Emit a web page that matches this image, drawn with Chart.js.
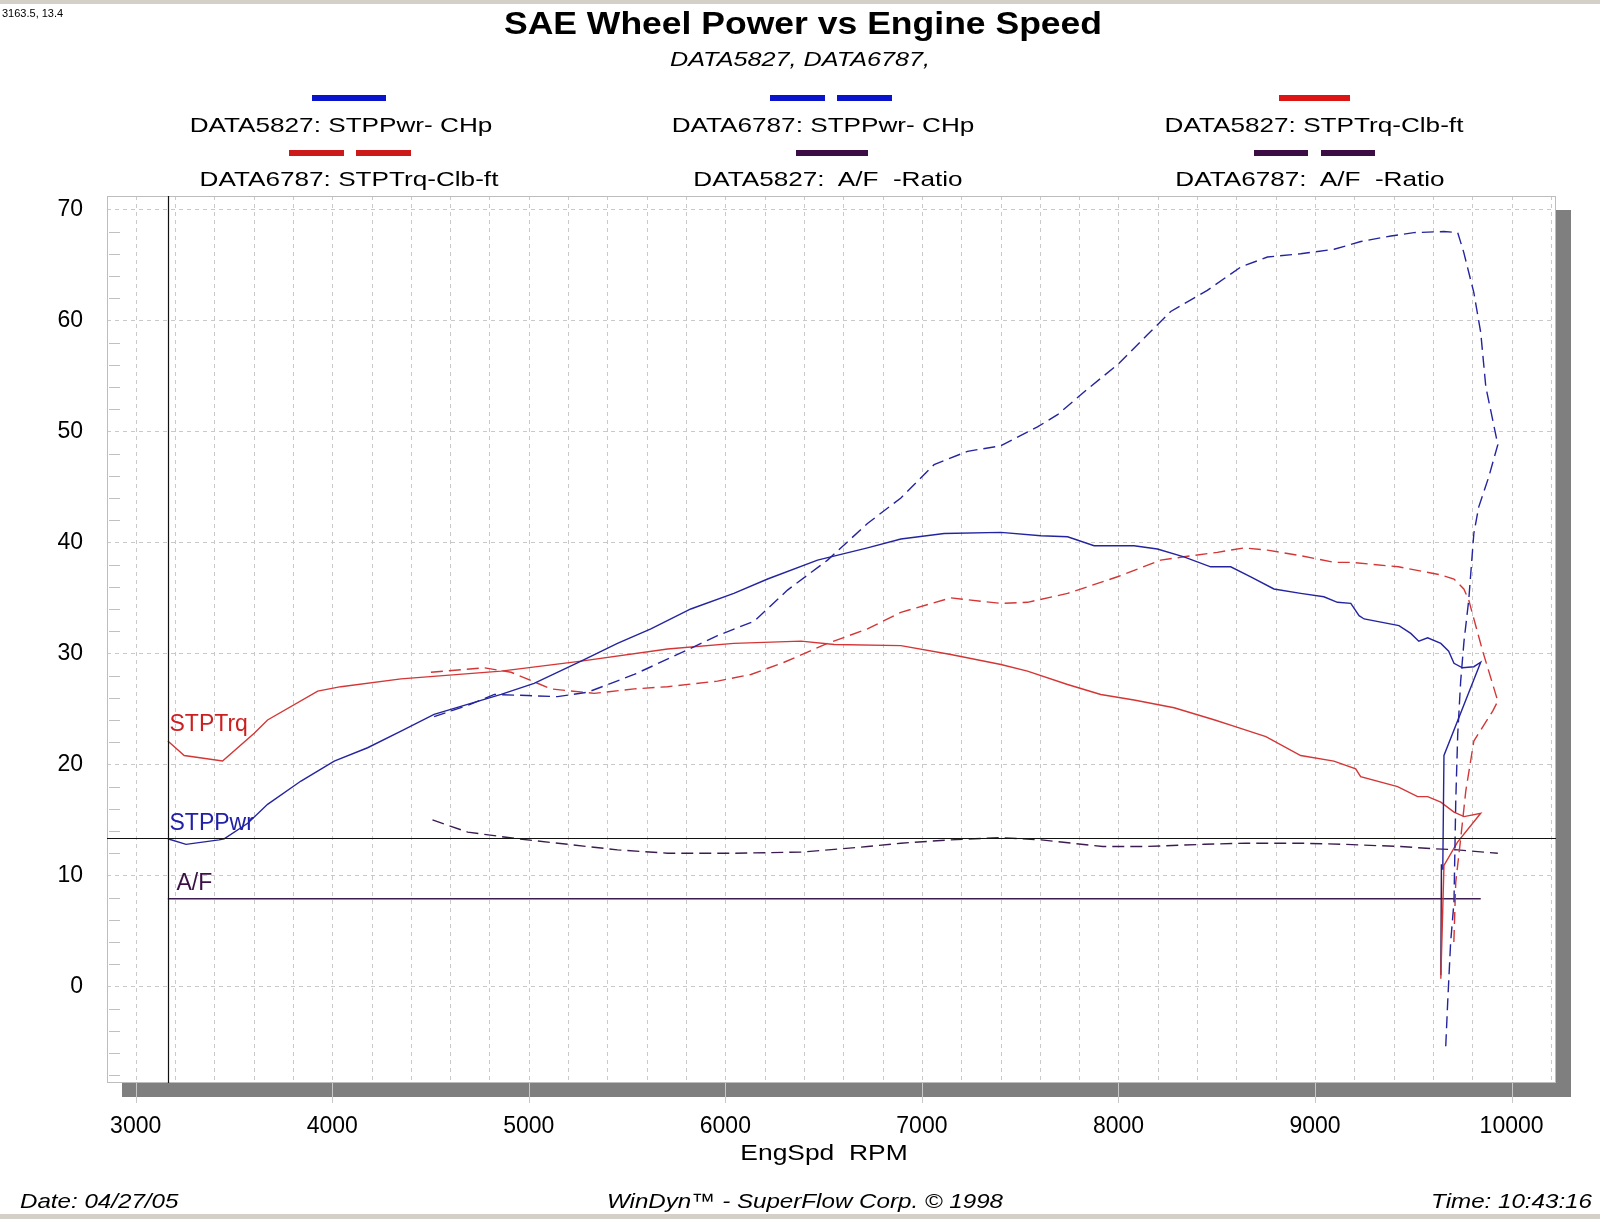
<!DOCTYPE html>
<html>
<head>
<meta charset="utf-8">
<script src="https://cdn.jsdelivr.net/npm/chart.js@4.4.1/dist/chart.umd.min.js"></script>
<style>
html,body{margin:0;padding:0;background:#fff;}
body{width:1600px;height:1219px;position:relative;overflow:hidden;font-family:"Liberation Sans",Arial,sans-serif;color:#000;}
#c{position:absolute;left:0;top:0;}
.t{position:absolute;white-space:pre;line-height:1;}
.cc{transform:translate(-50%,-50%) scaleX(1.2);}
.lc{transform-origin:0 50%;transform:translate(0,-50%) scaleX(1.15);}
.rc{transform-origin:100% 50%;transform:translate(-100%,-50%) scaleX(1.15);}
.leg{font-size:21px;transform:translate(-50%,-50%) scaleX(1.245);}
.sw{position:absolute;height:6px;}
.bar{position:absolute;left:0;width:1600px;background:#d4d0c8;}
</style>
</head>
<body>
<div class="bar" style="top:0;height:4px;"></div>
<div class="bar" style="top:1214px;height:5px;"></div>
<canvas id="c" width="1600" height="1219"></canvas>

<div class="t" id="cursorText" style="left:2px;top:13px;font-size:11px;transform:translate(0,-50%);"></div>
<div class="t" style="left:803px;top:23px;font-size:32px;font-weight:bold;transform:translate(-50%,-50%) scaleX(1.11);">SAE Wheel Power vs Engine Speed</div>
<div class="t cc" style="left:800px;top:58px;font-size:21px;font-style:italic;">DATA5827, DATA6787,</div>

<!-- legend samples -->
<div class="sw" style="left:312px;top:95px;width:74px;background:#0a14cc;"></div>
<div class="sw" style="left:770px;top:95px;width:55px;background:#0a14cc;"></div>
<div class="sw" style="left:837px;top:95px;width:55px;background:#0a14cc;"></div>
<div class="sw" style="left:1279px;top:95px;width:71px;background:#dd1414;"></div>
<div class="sw" style="left:289px;top:150px;width:55px;background:#cc1a1a;"></div>
<div class="sw" style="left:356px;top:150px;width:55px;background:#cc1a1a;"></div>
<div class="sw" style="left:796px;top:150px;width:72px;background:#3c0c44;"></div>
<div class="sw" style="left:1254px;top:150px;width:54px;background:#3c0c44;"></div>
<div class="sw" style="left:1321px;top:150px;width:54px;background:#3c0c44;"></div>

<div class="t leg" style="left:341px;top:124px;">DATA5827: STPPwr- CHp</div>
<div class="t leg" style="left:823px;top:124px;">DATA6787: STPPwr- CHp</div>
<div class="t leg" style="left:1314px;top:124px;">DATA5827: STPTrq-Clb-ft</div>
<div class="t leg" style="left:349px;top:178px;">DATA6787: STPTrq-Clb-ft</div>
<div class="t leg" style="left:828px;top:178px;">DATA5827:  A/F  -Ratio</div>
<div class="t leg" style="left:1310px;top:178px;">DATA6787:  A/F  -Ratio</div>

<div class="t cc" style="left:824px;top:1153px;font-size:22px;">EngSpd  RPM</div>
<div class="t lc" style="left:20px;top:1200px;font-size:21px;font-style:italic;">Date: 04/27/05</div>
<div class="t cc" style="left:805px;top:1200px;font-size:21px;font-style:italic;transform:translate(-50%,-50%) scaleX(1.15);">WinDyn™ - SuperFlow Corp. © 1998</div>
<div class="t rc" style="left:1592px;top:1200px;font-size:21px;font-style:italic;">Time: 10:43:16</div>

<script>
// ---------------- data ----------------
const rpmPwr5827 = [3163.5, 3256, 3424, 3450, 3570, 3671, 3841, 4010, 4180, 4350, 4518, 4859, 5027, 5266, 5451, 5621, 5824, 6043, 6215, 6469, 6723, 6893, 7113, 7402, 7605, 7741, 7876, 8079, 8198, 8333, 8469, 8571, 8673, 8791, 8927, 9045, 9114, 9182, 9224, 9250, 9427, 9487, 9528, 9573, 9640, 9680, 9707, 9750, 9808, 9843, 9656, 9650];
const pwr5827    = [13.3, 12.8, 13.2, 13.3, 14.7, 16.4, 18.5, 20.3, 21.5, 23.0, 24.5, 26.3, 27.3, 29.3, 30.9, 32.2, 34.0, 35.4, 36.7, 38.4, 39.5, 40.3, 40.8, 40.9, 40.6, 40.5, 39.7, 39.7, 39.4, 38.7, 37.8, 37.8, 36.9, 35.8, 35.4, 35.1, 34.6, 34.5, 33.4, 33.1, 32.5, 31.8, 31.1, 31.4, 30.9, 30.2, 29.1, 28.7, 28.8, 29.2, 20.8, 10.5];

const rpmTrq5827 = [3163.5, 3247, 3442, 3603, 3671, 3926, 4044, 4350, 4859, 5266, 5706, 6043, 6385, 6554, 6893, 7147, 7402, 7537, 7741, 7910, 8079, 8283, 8490, 8594, 8750, 8927, 9096, 9207, 9232, 9420, 9522, 9573, 9640, 9707, 9758, 9843, 9725, 9656, 9640];
const trq5827    = [22.1, 20.8, 20.3, 22.8, 24.0, 26.6, 27.0, 27.7, 28.4, 29.3, 30.4, 30.9, 31.1, 30.8, 30.7, 29.9, 29.0, 28.4, 27.2, 26.3, 25.8, 25.1, 24.0, 23.4, 22.5, 20.8, 20.3, 19.6, 18.9, 18.0, 17.1, 17.1, 16.6, 15.7, 15.3, 15.6, 13.0, 10.9, 0.7];

const rpmAF5827 = [3163.5, 9843, 9645, 9643, 9640];
const af5827    = [7.9, 7.9, 7.9, 11.0, 1.0];

const rpmPwr6787 = [4518, 4702, 4825, 4993, 5146, 5299, 5536, 5757, 5960, 6147, 6316, 6520, 6723, 6893, 7062, 7232, 7402, 7588, 7690, 7842, 7995, 8147, 8266, 8452, 8622, 8758, 8927, 9097, 9233, 9386, 9503, 9656, 9726, 9757, 9808, 9843, 9869, 9930, 9884, 9833, 9808, 9782, 9758, 9741, 9726, 9716, 9707, 9690, 9675, 9665];
const pwr6787    = [24.3, 25.4, 26.3, 26.2, 26.1, 26.5, 28.1, 29.9, 31.6, 32.9, 35.7, 38.4, 41.7, 44.0, 47.0, 48.2, 48.7, 50.4, 51.5, 53.8, 56.0, 58.7, 60.8, 62.7, 64.8, 65.7, 66.0, 66.4, 67.1, 67.6, 67.9, 68.0, 67.9, 66.1, 62.5, 58.9, 54.0, 48.8, 45.9, 43.2, 40.8, 34.8, 31.1, 27.5, 22.7, 16.7, 7.6, 4.0, -1.4, -5.4];

const rpmTrq6787 = [4502, 4773, 4910, 5113, 5333, 5536, 5706, 5960, 6130, 6299, 6520, 6723, 6893, 7147, 7402, 7537, 7741, 7995, 8215, 8333, 8503, 8638, 8758, 8927, 9097, 9182, 9424, 9632, 9707, 9757, 9782, 9853, 9930, 9904, 9808, 9767, 9741, 9716, 9706];
const trq6787    = [28.3, 28.7, 28.3, 26.8, 26.4, 26.8, 27.0, 27.5, 28.1, 29.2, 30.9, 32.2, 33.7, 35.0, 34.5, 34.6, 35.4, 36.9, 38.4, 38.7, 39.1, 39.5, 39.3, 38.8, 38.2, 38.2, 37.8, 37.1, 36.7, 35.8, 34.8, 30.2, 25.7, 24.8, 22.1, 17.6, 13.3, 9.4, 3.8];

const rpmAF6787 = [4510, 4689, 4943, 5197, 5451, 5706, 6043, 6385, 6723, 6893, 7141, 7401, 7608, 7920, 8127, 8438, 8646, 8927, 9148, 9436, 9605, 9726, 9858, 9930];
const af6787    = [15.0, 13.9, 13.3, 12.8, 12.3, 12.0, 12.0, 12.1, 12.6, 12.9, 13.2, 13.4, 13.2, 12.6, 12.6, 12.8, 12.9, 12.9, 12.8, 12.6, 12.4, 12.3, 12.1, 12.0];

const xTickLabels = [3000, 4000, 5000, 6000, 7000, 8000, 9000, 10000];
const yTickLabels = [0, 10, 20, 30, 40, 50, 60, 70];
const cursorRPM = 3163.5;
const cursorValue = 13.4;
// --------------------------------------

document.getElementById('cursorText').textContent = cursorRPM.toFixed(1) + ', ' + cursorValue.toFixed(1);

const xGridTicks = [];
for (let v = 3000; v <= 10200; v += 200) xGridTicks.push(v);

const pts = (xs, ys) => xs.map((x, i) => ({x: x, y: ys[i]}));

const BLUE = '#2424a0', RED = '#d43636', PURP = '#3c1c50';

const decor = {
  id: 'decor',
  beforeDatasetsDraw(chart) {
    const {ctx, chartArea: a, scales: {x, y}} = chart;
    ctx.save();
    ctx.fillStyle = '#7f7f7f';
    ctx.fillRect(a.right, a.top + 14, 15, a.bottom - a.top);
    ctx.fillRect(a.left + 15, a.bottom, a.right - a.left, 14);
    ctx.strokeStyle = '#c8c8c8';
    ctx.lineWidth = 1;
    xTickLabels.forEach(v => {
      const px = Math.round(x.getPixelForValue(v)) + 0.5;
      if (px > a.left + 15) {
        ctx.beginPath(); ctx.moveTo(px, a.bottom); ctx.lineTo(px, a.bottom + 20); ctx.stroke();
      }
    });
    ctx.setLineDash([4, 4]);
    ctx.strokeStyle = '#c9c9c9';
    xGridTicks.forEach(v => {
      const px = Math.round(x.getPixelForValue(v)) + 0.5;
      ctx.beginPath(); ctx.moveTo(px, a.top); ctx.lineTo(px, a.bottom); ctx.stroke();
    });
    yTickLabels.forEach(v => {
      const py = Math.round(y.getPixelForValue(v)) + 0.5;
      ctx.beginPath(); ctx.moveTo(a.left, py); ctx.lineTo(a.right, py); ctx.stroke();
    });
    ctx.setLineDash([]);
    ctx.strokeStyle = '#c0c0c0';
    for (let v = -8; v <= 70; v += 2) {
      if (v % 10 === 0) continue;
      const py = Math.round(y.getPixelForValue(v)) + 0.5;
      ctx.beginPath(); ctx.moveTo(a.left + 2, py); ctx.lineTo(a.left + 13, py); ctx.stroke();
    }
    ctx.strokeStyle = '#bdbdbd';
    ctx.strokeRect(a.left + 0.5, a.top + 0.5, a.right - a.left - 1, a.bottom - a.top - 1);
    ctx.restore();
  },
  afterDatasetsDraw(chart) {
    const {ctx, chartArea: a, scales: {x, y}} = chart;
    ctx.save();
    ctx.strokeStyle = '#111';
    ctx.lineWidth = 1.2;
    const cx = Math.round(x.getPixelForValue(cursorRPM)) + 0.5;
    const cy = Math.round(y.getPixelForValue(cursorValue)) + 0.5;
    ctx.beginPath(); ctx.moveTo(cx, a.top); ctx.lineTo(cx, a.bottom); ctx.stroke();
    ctx.beginPath(); ctx.moveTo(a.left, cy); ctx.lineTo(a.right, cy); ctx.stroke();
    ctx.font = '23px "Liberation Sans", Arial, sans-serif';
    ctx.textAlign = 'left';
    ctx.textBaseline = 'middle';
    ctx.fillStyle = '#cc2020';
    ctx.fillText('STPTrq', cx + 1, y.getPixelForValue(23.6));
    ctx.fillStyle = '#2020a8';
    ctx.fillText('STPPwr', cx + 1, y.getPixelForValue(14.7));
    ctx.fillStyle = '#3c1046';
    ctx.fillText('A/F', cx + 8, y.getPixelForValue(9.3));
    ctx.restore();
  }
};

const tickFont = {family: '"Liberation Sans", Arial, sans-serif', size: 23};

new Chart(document.getElementById('c'), {
  type: 'scatter',
  data: {
    datasets: [
      {label: 'DATA5827: STPPwr- CHp', data: pts(rpmPwr5827, pwr5827), borderColor: BLUE, borderWidth: 1.4},
      {label: 'DATA6787: STPPwr- CHp', data: pts(rpmPwr6787, pwr6787), borderColor: BLUE, borderWidth: 1.4, borderDash: [12, 6]},
      {label: 'DATA5827: STPTrq-Clb-ft', data: pts(rpmTrq5827, trq5827), borderColor: RED, borderWidth: 1.4},
      {label: 'DATA6787: STPTrq-Clb-ft', data: pts(rpmTrq6787, trq6787), borderColor: RED, borderWidth: 1.4, borderDash: [12, 6]},
      {label: 'DATA5827: A/F -Ratio', data: pts(rpmAF5827, af5827), borderColor: PURP, borderWidth: 1.4},
      {label: 'DATA6787: A/F -Ratio', data: pts(rpmAF6787, af6787), borderColor: PURP, borderWidth: 1.4, borderDash: [12, 6]}
    ].map(d => Object.assign(d, {showLine: true, pointRadius: 0, tension: 0, fill: false}))
  },
  options: {
    responsive: false,
    animation: false,
    devicePixelRatio: 1,
    layout: {padding: {left: 0, top: 196, right: 44, bottom: 56}},
    plugins: {legend: {display: false}, tooltip: {enabled: false}, title: {display: false}},
    scales: {
      x: {
        type: 'linear', min: 2854, max: 10226,
        afterBuildTicks: s => { s.ticks = xGridTicks.map(v => ({value: v})); },
        afterFit: s => { s.height = 80; },
        grid: {display: false, drawTicks: false},
        border: {display: false},
        ticks: {
          autoSkip: false, maxRotation: 0, minRotation: 0, padding: 30,
          color: '#000', font: tickFont,
          callback: v => xTickLabels.includes(v) ? String(v) : ''
        }
      },
      y: {
        type: 'linear', min: -8.7, max: 71.2,
        afterBuildTicks: s => { s.ticks = yTickLabels.map(v => ({value: v})); },
        afterFit: s => { s.width = 107; },
        grid: {display: false, drawTicks: false},
        border: {display: false},
        ticks: {padding: 24, color: '#000', font: tickFont, callback: v => String(v)}
      }
    }
  },
  plugins: [decor]
});
</script>
</body>
</html>
